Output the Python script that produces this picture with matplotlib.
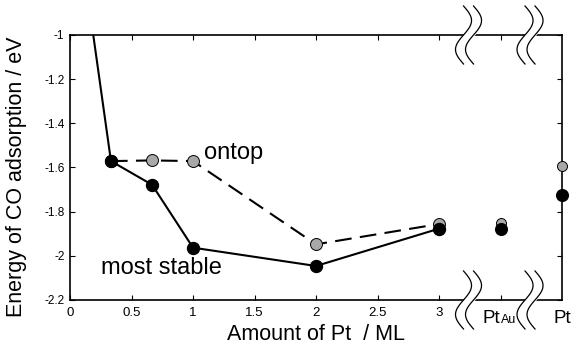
import numpy as np
import matplotlib
matplotlib.use("Agg")
import matplotlib.pyplot as plt
import matplotlib.transforms as mtransforms

plt.rcParams["font.family"] = ["Liberation Sans", "DejaVu Sans"]

# most stable site (solid line)
stable_x = [0.0, 0.333, 0.667, 1.0, 2.0, 3.0]
stable_y = [-0.25, -1.571, -1.678, -1.963, -2.046, -1.877]
# ontop site (dashed line)
ontop_x = [0.333, 0.667, 1.0, 2.0, 3.0]
ontop_y = [-1.571, -1.568, -1.571, -1.948, -1.856]
# separate reference points: Pt_Au and Pt
ref_x = [3.5, 4.0]
ref_ontop = [-1.853, -1.592]
ref_stable = [-1.878, -1.723]

xticks = [0, 0.5, 1, 1.5, 2, 2.5, 3]
xticklabels = ["0", "0.5", "1", "1.5", "2", "2.5", "3"]
yticks = [-2.2, -2.0, -1.8, -1.6, -1.4, -1.2, -1.0]
yticklabels = ["-2.2", "-2", "-1.8", "-1.6", "-1.4", "-1.2", "-1"]
breaks_x = [3.24, 3.74]

fig = plt.figure(figsize=(5.84, 3.51), dpi=100)
ax = fig.add_axes([70 / 584, 51 / 351, 492 / 584, 265 / 351])

ax.plot(ontop_x, ontop_y, color="black", lw=1.5, dashes=(8, 4),
        marker="o", ms=8.6, mfc="#a8a8a8", mec="black", mew=0.7, zorder=3)
ax.plot(stable_x, stable_y, color="black", lw=1.5,
        marker="o", ms=8.6, mfc="black", mec="black", zorder=4)
ax.plot(ref_x, ref_ontop, ls="none", marker="o", ms=7.2,
        mfc="#a8a8a8", mec="black", mew=0.7, zorder=7, clip_on=False)
ax.plot(ref_x, ref_stable, ls="none", marker="o", ms=8.4,
        mfc="black", mec="black", zorder=8, clip_on=False)

ax.set_xlim(0, 4)
ax.set_ylim(-2.2, -1.0)
ax.set_xticks(xticks + [3.5])
ax.set_xticklabels(xticklabels + [""], fontsize=9.5)
ax.set_yticks(yticks)
ax.set_yticklabels(yticklabels, fontsize=8.5)
ax.tick_params(direction="in", length=3.5, width=0.8, top=True, right=True)
ax.tick_params(axis="x", pad=5)
ax.tick_params(axis="y", pad=4)
for s in ax.spines.values():
    s.set_linewidth(1.2)

# custom category labels for the broken part of the axis
ylab = -2.305
ax.text(3.5, ylab, "Pt", ha="right", va="baseline", fontsize=13.5, clip_on=False)
ax.text(3.5, ylab, "Au", ha="left", va="baseline", fontsize=9, clip_on=False)
ax.text(4.0, ylab, "Pt", ha="center", va="baseline", fontsize=13.5, clip_on=False)

ax.set_xlabel("Amount of Pt  / ML", fontsize=15.5, labelpad=4)
ax.set_ylabel("Energy of CO adsorption / eV", fontsize=15.5)
ax.yaxis.set_label_coords(-0.087, 0.465)

ax.text(1.09, -1.535, "ontop", fontsize=17, ha="left", va="center")
ax.text(0.25, -2.055, "most stable", fontsize=17, ha="left", va="center")

# axis break marks (double S-curves) at top and bottom spines
t = np.linspace(-1, 1, 60)
amp = 8 / 100.0  # inches
half_h = 29 / 100.0
gap = 5 / 100.0
for bx in breaks_x:
    for yax in (0, 1):
        tr = fig.dpi_scale_trans + mtransforms.ScaledTranslation(
            bx, yax, ax.get_xaxis_transform())
        cx = amp * np.sin(np.pi * t)
        cy = half_h * t
        ax.fill_betweenx(cy, cx - gap, cx + gap, color="white",
                         transform=tr, clip_on=False, zorder=5)
        for off in (-gap, gap):
            ax.plot(cx + off, cy, color="black", lw=0.9, transform=tr,
                    clip_on=False, zorder=6)

fig.savefig("out.png", dpi=100)
